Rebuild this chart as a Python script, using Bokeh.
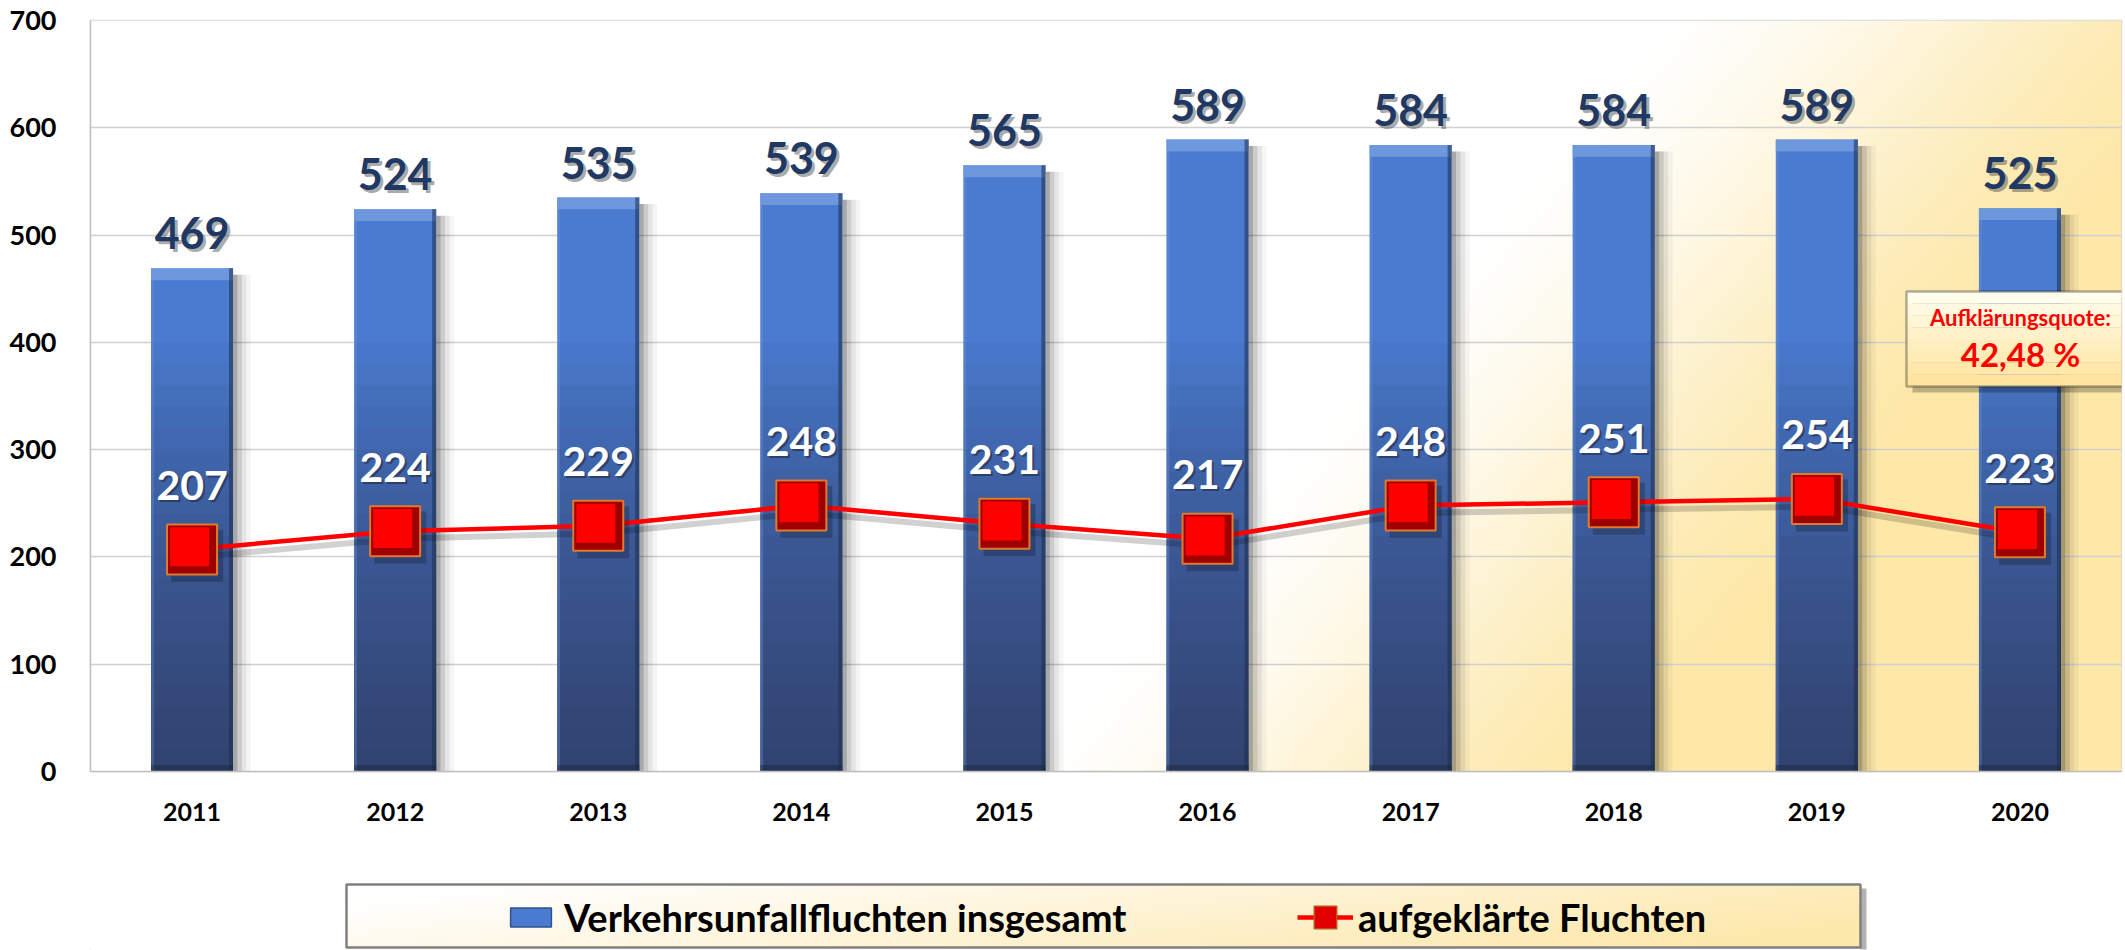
import numpy as np
from bokeh.plotting import figure
from bokeh.models import (Range1d, FactorRange, ColumnDataSource, Legend, LegendItem,
                          BoxAnnotation, Label, FixedTicker)
from bokeh.transform import dodge
from bokeh.layouts import column
from bokeh.embed import file_html
from bokeh.resources import INLINE
from bokeh.core.properties import value

# ---------------- data ----------------
years = ["2011", "2012", "2013", "2014", "2015", "2016", "2017", "2018", "2019", "2020"]
total = [469, 524, 535, 539, 565, 589, 584, 584, 589, 525]
solved = [207, 224, 229, 248, 231, 217, 248, 251, 254, 223]
y_ticks = [0, 100, 200, 300, 400, 500, 600, 700]
series_names = ["Verkehrsunfallfluchten insgesamt", "aufgeklärte Fluchten"]
quote_title = "Aufklärungsquote:"
quote_value = ("%.2f %%" % (solved[-1] / total[-1] * 100)).replace(".", ",")

FONT = value("Lato")
BLUE = "#4A7BD0"

# ---------------- layout constants ----------------
W = 2125
H_MAIN = 870
H_LEG = 80
FL, FR, FT = 90, 4, 20          # frame borders (left, right, top)
FW, FH = W - FL - FR, 751
YMAX = 700
NC = len(years)
BW = 0.404                       # bar width (category units)
HB = BW / 2


def px_x(X):
    # frame pixel -> synthetic categorical coordinate
    return X / FW * NC


def px_y(Y):
    # frame pixel (from bottom) -> data y
    return Y / FH * YMAX


src = ColumnDataSource(dict(
    x=years, total=total, solved=solved,
    total_lbl=[str(v) for v in total],
    solved_lbl=[str(v) for v in solved],
    bevel_bottom=[v - 11 for v in total],
    shadow_top=[v - 6 for v in total],
))

p = figure(width=W, height=H_MAIN,
           x_range=FactorRange(factors=years, range_padding=0),
           y_range=Range1d(0, YMAX),
           output_backend="svg", toolbar_location=None,
           min_border_left=FL, min_border_right=FR, min_border_top=FT,
           min_border_bottom=H_MAIN - FT - FH)
p.background_fill_color = "white"
p.border_fill_color = "white"
p.outline_line_color = "#D9D9D9"
p.outline_line_width = 1.5

# background gradient (white -> light yellow toward bottom right)
gh, gw = 251, 677
gx = (np.arange(gw) + 0.5) / gw * FW
gy = (np.arange(gh) + 0.5) / gh * FH
XX, YY = np.meshgrid(gx, gy)
Ytop = FH - YY
s = (XX - 935) * 0.764 + (Ytop - 752) * 0.645
t = np.clip(s / 460.0, 0, 1)
t = t * t * (3 - 2 * t) * 0.6 + t * 0.4
img = np.empty((gh, gw), dtype=np.uint32)
view = img.view(dtype=np.uint8).reshape((gh, gw, 4))
view[:, :, 0] = (255 * (1 - t) + 253 * t).astype(np.uint8)
view[:, :, 1] = (255 * (1 - t) + 232 * t).astype(np.uint8)
view[:, :, 2] = (255 * (1 - t) + 168 * t).astype(np.uint8)
view[:, :, 3] = 255
p.image_rgba(image=[img], x=0, y=0, dw=NC, dh=YMAX, level="image")

# bar shadows
for k, a in enumerate([0.34, 0.20, 0.10, 0.04]):
    off = HB + 0.011 + 0.022 * k
    p.vbar(x=dodge("x", off, range=p.x_range), top="shadow_top", bottom=0, width=0.022,
           source=src, fill_color="black", fill_alpha=a, line_color=None)

# main bars
p.vbar(x="x", top="total", bottom=0, width=BW, source=src,
       fill_color=BLUE, line_color=None)
# darker toward the bottom
for k in range(1, 21):
    lvl = 20 * k
    tops = [min(v, lvl) for v in total]
    p.vbar(x=years, top=tops, bottom=0, width=BW,
           fill_color="#2C333C", fill_alpha=0.046, line_color=None)
# bevels
p.vbar(x="x", top="total", bottom="bevel_bottom", width=BW, source=src,
       fill_color="#7AA2E3", fill_alpha=0.75, line_color=None)
p.vbar(x=dodge("x", HB - 0.01, range=p.x_range), top="total", bottom=0, width=0.02, source=src,
       fill_color="#1E2E4A", fill_alpha=0.55, line_color=None)
p.vbar(x=dodge("x", -HB + 0.007, range=p.x_range), top="total", bottom=0, width=0.014,
       source=src, fill_color="#6E95DA", fill_alpha=0.35, line_color=None)
p.vbar(x=years, top=[6] * NC, bottom=0, width=BW,
       fill_color="#1A2538", fill_alpha=0.45, line_color=None)

# red line with shadow
p.line(x=dodge("x", 0.02, range=p.x_range), y=dodge("solved", -7), source=src,
       line_color="#000000", line_alpha=0.18, line_width=6)
p.line(x="x", y="solved", source=src, line_color="#FF0000", line_width=4.5)

# markers
p.scatter(x=dodge("x", 0.025, range=p.x_range), y=dodge("solved", -6), source=src,
          marker="square", size=52, fill_color="black", fill_alpha=0.22, line_color=None)
p.scatter(x="x", y="solved", source=src, marker="square", size=50,
          fill_color="#9E0000", line_color="#E07A2C", line_width=2)
p.scatter(x=dodge("x", -0.012, range=p.x_range), y=dodge("solved", 2.5), source=src,
          marker="square", size=39, fill_color="#FF0000", line_color=None)

# value labels (bars)
p.text(x="x", y="total", text="total_lbl", source=src, x_offset=3, y_offset=-32,
       text_font=FONT, text_font_style="bold", text_font_size="43px",
       text_color="#404040", text_alpha=0.45, text_align="center", text_baseline="alphabetic")
p.text(x="x", y="total", text="total_lbl", source=src, y_offset=-35,
       text_font=FONT, text_font_style="bold", text_font_size="43px",
       text_color="#1F3864", text_align="center", text_baseline="alphabetic")

# value labels (line)
p.text(x="x", y="solved", text="solved_lbl", source=src, x_offset=2, y_offset=-62,
       text_font=FONT, text_font_style="bold", text_font_size="41px",
       text_color="#1A2030", text_alpha=0.5, text_align="center", text_baseline="alphabetic")
p.text(x="x", y="solved", text="solved_lbl", source=src, y_offset=-64,
       text_font=FONT, text_font_style="bold", text_font_size="41px",
       text_color="white", text_align="center", text_baseline="alphabetic")

# axes
p.yaxis.ticker = FixedTicker(ticks=y_ticks)
p.ygrid.ticker = FixedTicker(ticks=y_ticks)
p.ygrid.grid_line_color = "#D0D0D0"
p.ygrid.grid_line_width = 1.5
p.xgrid.grid_line_color = None
for ax in (p.xaxis, p.yaxis):
    ax.axis_line_color = "#BFBFBF"
    ax.axis_line_width = 1.5
    ax.major_tick_line_color = None
    ax.minor_tick_line_color = None
    ax.major_label_text_font = "Lato"
    ax.major_label_text_font_style = "bold"
    ax.major_label_text_color = "black"
p.yaxis.major_label_text_font_size = "27px"
p.yaxis.major_label_standoff = 28
p.xaxis.major_label_text_font_size = "25px"
p.xaxis.major_label_standoff = 25

# annotation box (frame pixel layout)
bl, br, bb, bt = 1816, 2060, 385, 480
p.add_layout(BoxAnnotation(left=px_x(bl + 6), right=px_x(br + 6), bottom=px_y(bb - 6),
                           top=px_y(bt - 6), fill_color="black", fill_alpha=0.25,
                           line_color=None))
nstr = 8
for i in range(nstr):
    f = i / (nstr - 1)
    r, g, b = 255, int(253 - 24 * f), int(236 - 76 * f)
    top = bt - (bt - bb) * i / nstr
    bot = bt - (bt - bb) * (i + 1) / nstr
    p.add_layout(BoxAnnotation(left=px_x(bl), right=px_x(br), bottom=px_y(bot), top=px_y(top),
                               fill_color="#%02X%02X%02X" % (r, g, b), fill_alpha=1,
                               line_color=None))
p.add_layout(BoxAnnotation(left=px_x(bl), right=px_x(br), bottom=px_y(bb), top=px_y(bt),
                           fill_alpha=0, line_color="black", line_width=2.5))
p.add_layout(Label(x=px_x(1930), y=px_y(454), text=quote_title,
                   text_align="center", text_baseline="middle", text_color="#FF0000",
                   text_font="Lato", text_font_style="bold", text_font_size="22px"))
p.add_layout(Label(x=px_x(1930), y=px_y(418), text=quote_value,
                   text_align="center", text_baseline="middle", text_color="#FF0000",
                   text_font="Lato", text_font_style="bold", text_font_size="33px"))

# ---------------- legend figure ----------------
# the column aligns this figure's frame with the main frame, so the x range is
# expressed in page pixels of that frame
p2 = figure(width=W, height=H_LEG, x_range=Range1d(FL, W - FR), y_range=Range1d(0, H_LEG),
            output_backend="svg", toolbar_location=None,
            x_axis_location=None, y_axis_location=None, min_border=0)
p2.grid.visible = False
p2.outline_line_color = None
p2.background_fill_color = "white"
p2.border_fill_color = "white"

lx0, lx1, ly0, ly1 = 346, 1860, 3, 66
lh, lw = 32, 505
ux = (np.arange(lw) + 0.5) / lw
vy = (np.arange(lh) + 0.5) / lh
UU, VV = np.meshgrid(ux, vy)
tl = np.clip(UU * 0.9 + (1 - VV) * 0.3 - 0.1, 0, 1)
limg = np.empty((lh, lw), dtype=np.uint32)
lv = limg.view(dtype=np.uint8).reshape((lh, lw, 4))
lv[:, :, 0] = (255 * (1 - tl) + 253 * tl).astype(np.uint8)
lv[:, :, 1] = (255 * (1 - tl) + 232 * tl).astype(np.uint8)
lv[:, :, 2] = (255 * (1 - tl) + 172 * tl).astype(np.uint8)
lv[:, :, 3] = 255
p2.image_rgba(image=[limg], x=lx0, y=ly0, dw=lx1 - lx0, dh=ly1 - ly0, level="image")
p2.quad(left=lx1, right=lx1 + 6, bottom=ly0 - 2, top=ly1 - 4, fill_color="black",
        fill_alpha=0.3, line_color=None)
p2.quad(left=lx0, right=lx1, bottom=ly0, top=ly1, fill_color=None,
        line_color="#808080", line_width=2.5)

r_bar = p2.vbar(x=[-5000], top=[-5000], bottom=[-5001], width=1, fill_color=BLUE,
                line_color="#2F528F", line_width=1.5)
r_line = p2.line(x=[-5000, -4999], y=[-5000, -5000], line_color="#FF0000", line_width=4.5)
r_sq = p2.scatter(x=[-5000], y=[-5000], marker="square", size=22, fill_color="#E00000",
                  line_color="#C0501C", line_width=1.5)

common = dict(padding=0, margin=0, border_line_color=None, background_fill_alpha=0,
              label_text_font="Lato", label_text_font_style="bold",
              label_text_font_size="38px", label_text_color="black")
leg1 = Legend(items=[LegendItem(label=series_names[0], renderers=[r_bar])],
              location=(505 - FL, 10), glyph_width=51, glyph_height=24, label_standoff=8,
              **common)
leg2 = Legend(items=[LegendItem(label=series_names[1], renderers=[r_line, r_sq])],
              location=(1297 - FL, 5), glyph_width=56, glyph_height=56, label_standoff=5,
              **common)
p2.add_layout(leg1)
p2.add_layout(leg2)

layout = column(p, p2, spacing=0)
open("out.html", "w").write(file_html(layout, INLINE))
